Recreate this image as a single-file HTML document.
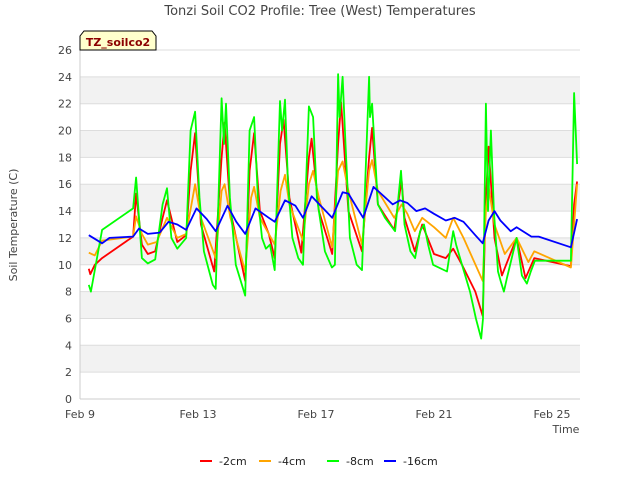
<!DOCTYPE html>
<html><head><meta charset="utf-8"><style>
body{margin:0;background:#fff;font-family:"Liberation Sans","DejaVu Sans",sans-serif}
</style></head><body>
<svg id="c" width="640" height="480" xmlns="http://www.w3.org/2000/svg" font-family="DejaVu Sans, Liberation Sans, sans-serif">
<text x="320" y="15" text-anchor="middle" font-size="13" fill="#444">Tonzi Soil CO2 Profile: Tree (West) Temperatures</text>
<text transform="translate(17,225) rotate(-90)" text-anchor="middle" font-size="11" fill="#444">Soil Temperature (C)</text>
<text x="566" y="433" text-anchor="middle" font-size="11" fill="#444">Time</text>
<g id="grid"></g><g id="series"></g>
<g>
<path d="M80,50 L80,36 L84,31 L152,31 L156,36 L156,50 Z" fill="#ffffcc" stroke="#000"/>
<text x="118" y="46" text-anchor="middle" font-size="11" font-weight="bold" fill="#8b0000">TZ_soilco2</text></g>
<g id="legend"></g>
</svg>
<script>
const yTicks=[0,2,4,6,8,10,12,14,16,18,20,22,24,26];
const xTickDays=[0,4,8,12,16];
const xTickLabels=["Feb 9","Feb 13","Feb 17","Feb 21","Feb 25"];
const seriesNames=["-2cm","-4cm","-8cm","-16cm"];
const seriesColors=["#ff0000","#ffa500","#00ff00","#0000ff"];
const t8=[0.3,0.37,0.5,0.75,1.8,1.9,2.1,2.3,2.55,2.8,2.95,3.1,3.3,3.6,3.75,3.9,4.05,4.2,4.5,4.6,4.8,4.88,4.95,5.08,5.28,5.6,5.75,5.9,6.03,6.17,6.3,6.44,6.6,6.78,6.85,6.95,7.05,7.2,7.4,7.56,7.76,7.9,8.03,8.3,8.54,8.64,8.75,8.8,8.9,9.0,9.15,9.38,9.56,9.8,9.83,9.9,10.1,10.34,10.68,10.88,11.0,11.2,11.36,11.53,11.66,11.8,11.97,12.44,12.65,12.75,12.95,13.22,13.42,13.6,13.66,13.76,13.83,13.93,14.03,14.17,14.27,14.37,14.47,14.8,14.98,15.15,15.28,15.42,16.64,16.75,16.85];
const v8=[8.5,8.0,9.6,12.6,14.2,16.5,10.5,10.1,10.4,14.5,15.7,12,11.2,12,20,21.4,15,11,8.5,8.2,22.4,19,22,15,10,7.7,20,21,15,12,11.2,11.5,9.6,22.2,20,22.3,16,12,10.5,10,21.8,21,15,11,9.8,10,24.2,21,24,19,12,10,9.6,24,21,22,14.5,13.5,12.5,17,13,11,10.5,12.5,13,11.5,10,9.5,12.5,11.5,10,8,6,4.5,6,22,14,20,14,9.5,8.7,8,9,12,9.2,8.6,9.5,10.3,10.3,22.8,17.5];
const t2=[0.3,0.35,0.5,0.75,1.8,1.9,2.1,2.3,2.55,2.8,2.95,3.3,3.6,3.75,3.9,4.1,4.55,4.8,4.9,5.1,5.6,5.75,5.9,6.1,6.4,6.6,6.78,6.9,7.1,7.5,7.76,7.85,8.1,8.55,8.75,8.85,9.1,9.56,9.8,9.9,10.1,10.65,10.9,11.0,11.35,11.6,12.0,12.4,12.65,12.95,13.4,13.65,13.76,13.85,14.05,14.3,14.8,15.1,15.4,16.64,16.75,16.85];
const v2=[9.7,9.3,10.0,10.5,12.1,15.3,11.5,10.8,11.0,13.5,14.8,11.7,12.2,17,19.8,13,9.5,18,20.6,14,8.8,17,19.8,14,12.3,10.5,19,20.8,15,10.9,18,19.4,14,10.8,19,22.1,14,11,18,20.2,14.5,12.6,16.3,13.5,11,13,10.8,10.5,11.2,10,8,6.2,15,18.8,12,9.2,12,9.0,10.5,9.9,14.5,16.2];
const t4=[0.3,0.5,0.75,1.8,1.9,2.1,2.3,2.6,2.95,3.3,3.6,3.9,4.1,4.6,4.8,4.9,5.1,5.6,5.8,5.9,6.1,6.6,6.8,6.95,7.1,7.56,7.76,7.9,8.1,8.55,8.75,8.9,9.1,9.56,9.8,9.9,10.1,10.65,10.9,11.1,11.35,11.6,12.0,12.4,12.65,13.0,13.65,13.76,13.85,14.05,14.4,14.8,15.2,15.4,16.64,16.85];
const v4=[10.9,10.7,11.8,12.1,13.6,12.3,11.5,11.7,13.5,12,12.3,16,13.5,10.5,15.5,16,13.5,9.5,15,15.8,13.5,11.5,15.5,16.7,14.5,11.8,16,17,15,11.3,17,17.7,15.5,11.5,17,17.8,15.5,13.5,14.5,13.8,12.5,13.5,12.8,12,13.5,12,8.8,14,15.8,13,10.8,12,10.2,11,9.8,16];
const t16=[0.3,0.75,1.0,1.8,2.0,2.3,2.7,3.0,3.3,3.6,3.95,4.3,4.6,5.0,5.3,5.6,5.95,6.4,6.6,6.95,7.3,7.56,7.85,8.2,8.55,8.9,9.1,9.4,9.6,9.95,10.3,10.6,10.85,11.1,11.4,11.7,12.0,12.4,12.7,13.0,13.4,13.65,13.85,14.05,14.25,14.6,14.8,15.3,15.55,16.64,16.85];
const v16=[12.2,11.6,12,12.1,12.7,12.3,12.4,13.2,13,12.6,14.2,13.4,12.5,14.4,13.2,12.3,14.2,13.5,13.2,14.8,14.4,13.5,15.1,14.3,13.5,15.4,15.3,14.2,13.5,15.8,15.1,14.5,14.8,14.6,14,14.2,13.8,13.3,13.5,13.2,12.2,11.6,13.3,14,13.3,12.5,12.8,12.1,12.1,11.3,13.4];
const NS="http://www.w3.org/2000/svg";
const X0=80,X1=580,Y0=399,Y1=50;
const xs=d=>X0+d*29.5;
const ys=v=>Y0-(v/26)*(Y0-Y1);
const g=document.getElementById('grid');
function mk(tag,attrs,parent){const e=document.createElementNS(NS,tag);for(const k in attrs)e.setAttribute(k,attrs[k]);parent.appendChild(e);return e;}
for(let i=0;i<yTicks.length-1;i+=2){
 const b=mk('rect',{x:X0,y:ys(yTicks[i+2]||26),width:X1-X0,height:ys(yTicks[i+1])-ys(yTicks[i+2]||26),fill:'#f2f2f2'},g);
 
 
}
yTicks.forEach(v=>{
 const l=mk('line',{x1:X0,x2:X1,y1:ys(v),y2:ys(v),stroke:'#ddd'},g);
 
 
 const t=mk('text',{x:X0-8,y:ys(v)+4,'text-anchor':'end','font-size':11,fill:'#444'},g);t.textContent=v;
 
 
});
mk('line',{x1:X0,x2:X0,y1:Y1,y2:Y0,stroke:'#ccc'},g);
mk('line',{x1:X0,x2:X1,y1:Y0,y2:Y0,stroke:'#ccc'},g);
xTickDays.forEach((d,i)=>{
 const t=mk('text',{x:xs(d),y:Y0+19,'text-anchor':'middle','font-size':11,fill:'#444'},g);t.textContent=xTickLabels[i];
 
 
});
const sg=document.getElementById('series');
const data=[[t2,v2],[t4,v4],[t8,v8],[t16,v16]];
data.forEach((s,i)=>{
 const pts=s[0].map((d,j)=>xs(d).toFixed(1)+','+ys(s[1][j]).toFixed(1)).join(' ');
 const p=mk('polyline',{points:pts,fill:'none',stroke:seriesColors[i],'stroke-width':1.8,'stroke-linejoin':'round'},sg);
 
 
});
const lg=document.getElementById('legend');
const lx=[200,259,327,384];
seriesNames.forEach((n,i)=>{
 const e=mk('g',{},lg);
 
 
 mk('line',{x1:lx[i],x2:lx[i]+12,y1:461,y2:461,stroke:seriesColors[i],'stroke-width':2},e);
 const t=mk('text',{x:lx[i]+19,y:465,'font-size':11,fill:'#222'},e);t.textContent=n;
});
</script>
</body></html>
